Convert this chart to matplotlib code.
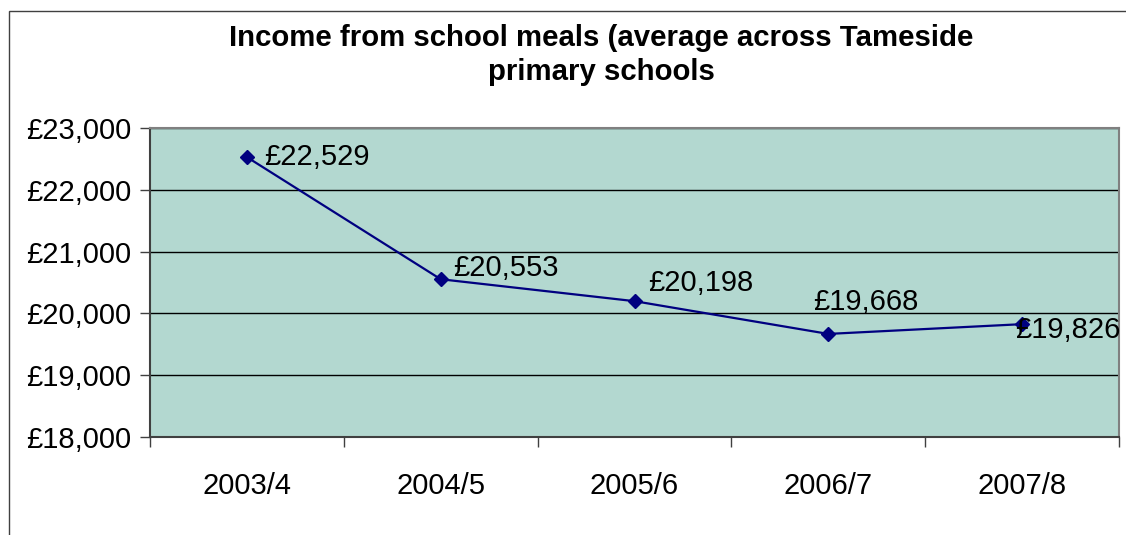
import numpy as np
import matplotlib.pyplot as plt
from matplotlib.patches import Rectangle
from matplotlib.ticker import FuncFormatter, FixedLocator

plt.rcParams['font.family'] = ['Liberation Sans', 'DejaVu Sans']

years = ['2003/4', '2004/5', '2005/6', '2006/7', '2007/8']
income = [22529, 20553, 20198, 19668, 19826]

x = np.arange(len(years))

fig = plt.figure(figsize=(11.26, 5.35), dpi=100)
# plot area in pixels: left 150, right 1119, top 128, bottom 437
ax = fig.add_axes([150/1126, 1 - 437/535, 969/1126, 309/535])

# outer chart border (runs off the right and bottom edges)
fig.patches.append(Rectangle((9/1126, -0.1), 1.2, 1 - 11/535 + 0.1,
                             transform=fig.transFigure, fill=False,
                             edgecolor='#404040', linewidth=1.0))

ax.set_facecolor('#b3d8d0')
ax.plot(x, income, color='#000080', linewidth=1.6, marker='D',
        markersize=7, zorder=3)

# data labels, nudged like in the original
offsets = [(17, 0), (12, 11), (14, 18), (-15, 32), (-7, -6)]
for xi, v, off in zip(x, income, offsets):
    ax.annotate('£{:,}'.format(v), (xi, v), xytext=off,
                textcoords='offset pixels', ha='left', va='center',
                fontsize=21, annotation_clip=False, zorder=4)

ax.set_xlim(-0.5, len(years) - 0.5)
ax.set_ylim(18000, 23000)
ax.set_yticks(np.arange(18000, 23001, 1000))
ax.yaxis.set_major_formatter(FuncFormatter(lambda v, p: '£{:,.0f}'.format(v)))
ax.grid(axis='y', color='black', linewidth=1.0)
ax.set_axisbelow(True)

ax.set_xticks(x)
ax.set_xticklabels(years)
ax.xaxis.set_minor_locator(FixedLocator(np.arange(-0.5, len(years), 1)))
ax.tick_params(axis='x', which='major', length=0, pad=25, labelsize=21)
ax.tick_params(axis='x', which='minor', length=7.2, width=1, color='#404040')
ax.tick_params(axis='y', length=7.2, width=1, color='#404040', pad=6.5, labelsize=21)

for s in ['top', 'right']:
    ax.spines[s].set_color('#808080')
for s in ['left', 'bottom']:
    ax.spines[s].set_color('#404040')
for s in ax.spines.values():
    s.set_linewidth(1.5)

fig.text(601/1126, 1 - 55/535,
         'Income from school meals (average across Tameside\nprimary schools',
         ha='center', va='center', fontsize=21.2, fontweight='bold',
         linespacing=1.25)

fig.savefig('out.png', dpi=100)
